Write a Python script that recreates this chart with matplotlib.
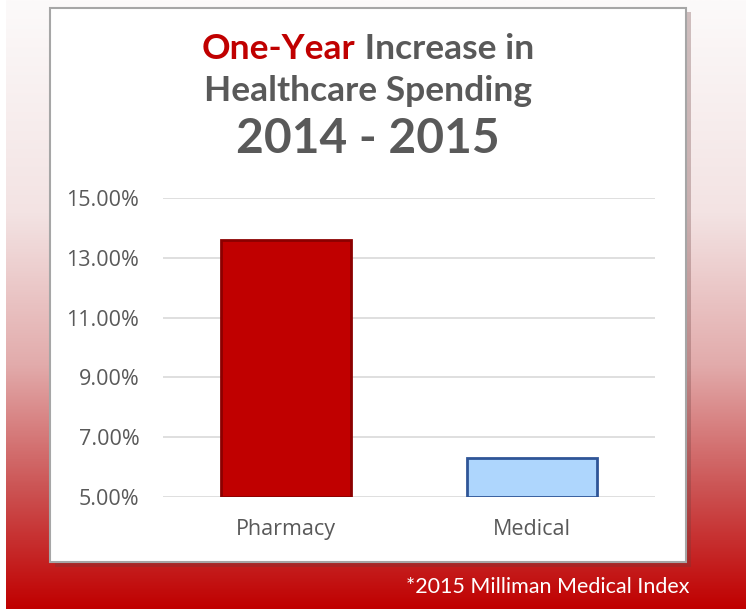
import numpy as np
import matplotlib
matplotlib.use("Agg")
import matplotlib.pyplot as plt
from matplotlib.colors import LinearSegmentedColormap
from matplotlib.patches import Rectangle
from matplotlib.ticker import FuncFormatter

categories = ["Pharmacy", "Medical"]
values = [13.6, 6.3]
yticks = [5, 7, 9, 11, 13, 15]

W, H = 746, 609
fig = plt.figure(figsize=(W/100, H/100), dpi=100)

# background gradient
bg = fig.add_axes([0, 0, 1, 1])
bg.set_axis_off()
cmap = LinearSegmentedColormap.from_list("bg", [(0, "#fcfafa"), (0.35, "#f3e3e3"),
                                                (0.6, "#e2abab"), (0.8, "#cc5555"),
                                                (1.0, "#c00000")])
grad = np.linspace(0, 1, 256).reshape(-1, 1)
bg.imshow(grad, aspect="auto", cmap=cmap, extent=[6/W, 1, 0, 1], origin="upper")
bg.set_xlim(0, 1); bg.set_ylim(0, 1)

def fx(px): return px / W
def fy(py): return 1 - py / H

# panel shadow and panel
bg.add_patch(Rectangle((fx(55), fy(567)), fx(691) - fx(55), fy(12) - fy(567),
                       facecolor="#6a3a3a", alpha=0.3, edgecolor="none", zorder=2))
bg.add_patch(Rectangle((fx(50), fy(562)), fx(686) - fx(50), fy(8) - fy(562),
                       facecolor="white", edgecolor="#a6a6a6", linewidth=1.5, zorder=3))

# titles
tfont = "Lato"
tsize = 25.5
fig.canvas.draw()
r = fig.canvas.get_renderer()
t1 = fig.text(0, fy(49), "One-Year", color="#c00000", fontsize=tsize, fontweight="bold",
              family=tfont, ha="left", va="center")
t2 = fig.text(0, fy(49), " Increase in", color="#595959", fontsize=tsize, fontweight="bold",
              family=tfont, ha="left", va="center")
w1 = t1.get_window_extent(r).width
w2 = t2.get_window_extent(r).width
start = 368 - (w1 + w2) / 2
t1.set_x(fx(start))
t2.set_x(fx(start + w1))
fig.text(fx(368), fy(91), "Healthcare Spending", color="#595959", fontsize=tsize, fontweight="bold",
         family=tfont, ha="center", va="center")
fig.text(fx(368), fy(139), "2014 - 2015", color="#595959", fontsize=34.5, fontweight="bold",
         family=tfont, ha="center", va="center")

# chart axes
ax = fig.add_axes([fx(163), fy(497), fx(655) - fx(163), fy(198) - fy(497)])
ax.set_facecolor("white")
x = np.arange(len(categories))
ax.bar(x[0], values[0] - 5, bottom=5, width=0.53, color="#c00000",
       edgecolor="#8b0000", linewidth=2, zorder=3)
ax.bar(x[1], values[1] - 5, bottom=5, width=0.53, color="#aed6fd",
       edgecolor="#2f5597", linewidth=2, zorder=3)
ax.set_xlim(-0.5, 1.5)
ax.set_ylim(5, 15)
ax.set_yticks(yticks)
ax.yaxis.set_major_formatter(FuncFormatter(lambda v, p: f"{v:.2f}%"))
ax.set_xticks(x)
ax.set_xticklabels(categories)
for s in ax.spines.values():
    s.set_visible(False)
ax.grid(axis="y", color="#d9d9d9", linewidth=1.2, zorder=0)
ax.tick_params(length=0, labelcolor="#595959", labelsize=15.5)
ax.tick_params(axis="y", pad=17)
ax.tick_params(axis="x", pad=16)
for lbl in ax.get_xticklabels() + ax.get_yticklabels():
    lbl.set_family("Open Sans")

fig.text(fx(690), fy(587), "*2015 Milliman Medical Index", color="white", fontsize=15.5,
         family="Lato", ha="right", va="center")

fig.savefig("out.png", dpi=100)
